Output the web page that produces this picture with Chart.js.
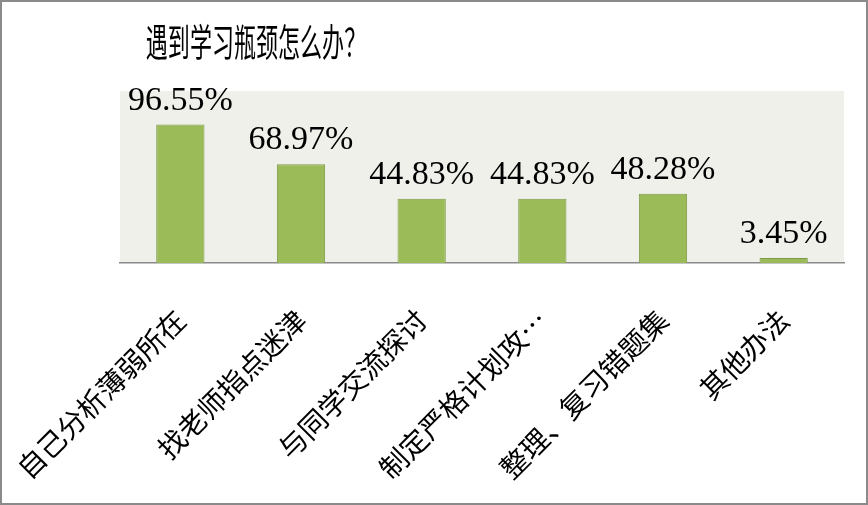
<!DOCTYPE html>
<html>
<head>
<meta charset="utf-8">
<script src="https://cdn.jsdelivr.net/npm/chart.js@4"></script>
<style>
  html, body { margin: 0; padding: 0; background: #fff; }
  #wrap { width: 868px; height: 505px; position: relative; }
</style>
</head>
<body>
<div id="wrap"><canvas id="chart"></canvas></div>
<script>
const chartTitle = '遇到学习瓶颈怎么办？';
const categories = ['自己分析薄弱所在', '找老师指点迷津', '与同学交流探讨', '制定严格计划攻…', '整理、复习错题集', '其他办法'];
const percentages = [96.55, 68.97, 44.83, 44.83, 48.28, 3.45];

// frame, plot background and the squeezed title
const decor = {
  id: 'decor',
  beforeDraw(chart) {
    const { ctx, chartArea } = chart;
    ctx.save();
    ctx.fillStyle = '#eef0e9';
    ctx.fillRect(chartArea.left, chartArea.top, chartArea.right - chartArea.left, chartArea.bottom - chartArea.top);
    ctx.strokeStyle = '#8a8a8a';
    ctx.lineWidth = 2;
    ctx.strokeRect(1, 1, chart.width - 2, chart.height - 2);
    ctx.translate(256, 42);
    ctx.scale(0.58, 1);
    ctx.fillStyle = '#000';
    ctx.font = '38px "Noto Sans CJK SC"';
    ctx.textAlign = 'center';
    ctx.textBaseline = 'middle';
    ctx.fillText(chartTitle, 0, 0);
    ctx.restore();
  }
};

// value labels above each bar
const valueLabels = {
  id: 'valueLabels',
  afterDatasetsDraw(chart) {
    const { ctx } = chart;
    const meta = chart.getDatasetMeta(0);
    ctx.save();
    ctx.fillStyle = '#000';
    ctx.font = '34px "Liberation Serif"';
    ctx.textAlign = 'center';
    ctx.textBaseline = 'alphabetic';
    meta.data.forEach((bar, i) => {
      ctx.fillText(percentages[i].toFixed(2) + '%', bar.x, bar.y - 15);
    });
    ctx.restore();
  }
};

new Chart(document.getElementById('chart'), {
  type: 'bar',
  data: {
    labels: categories,
    datasets: [{
      data: percentages,
      backgroundColor: '#9bbb59',
      borderColor: '#7e9a48',
      borderWidth: 1,
      barPercentage: 0.4,
      categoryPercentage: 1
    }]
  },
  options: {
    responsive: true,
    maintainAspectRatio: false,
    animation: false,
    layout: { padding: { left: 120, right: 24, top: 91, bottom: 0 } },
    plugins: {
      legend: { display: false },
      tooltip: { enabled: false }
    },
    scales: {
      x: {
        grid: { display: false },
        border: { color: '#8a8a8a', width: 1.5 },
        afterFit(scale) {
          scale.height = 242;
          scale.paddingLeft = 0;
          scale.paddingRight = 0;
        },
        ticks: {
          color: '#000',
          font: { family: '"Noto Sans CJK SC"', size: 28 },
          minRotation: 45,
          maxRotation: 45,
          autoSkip: false,
          padding: 32
        }
      },
      y: {
        display: false,
        min: 0,
        max: 120
      }
    }
  },
  plugins: [decor, valueLabels]
});
</script>
</body>
</html>
